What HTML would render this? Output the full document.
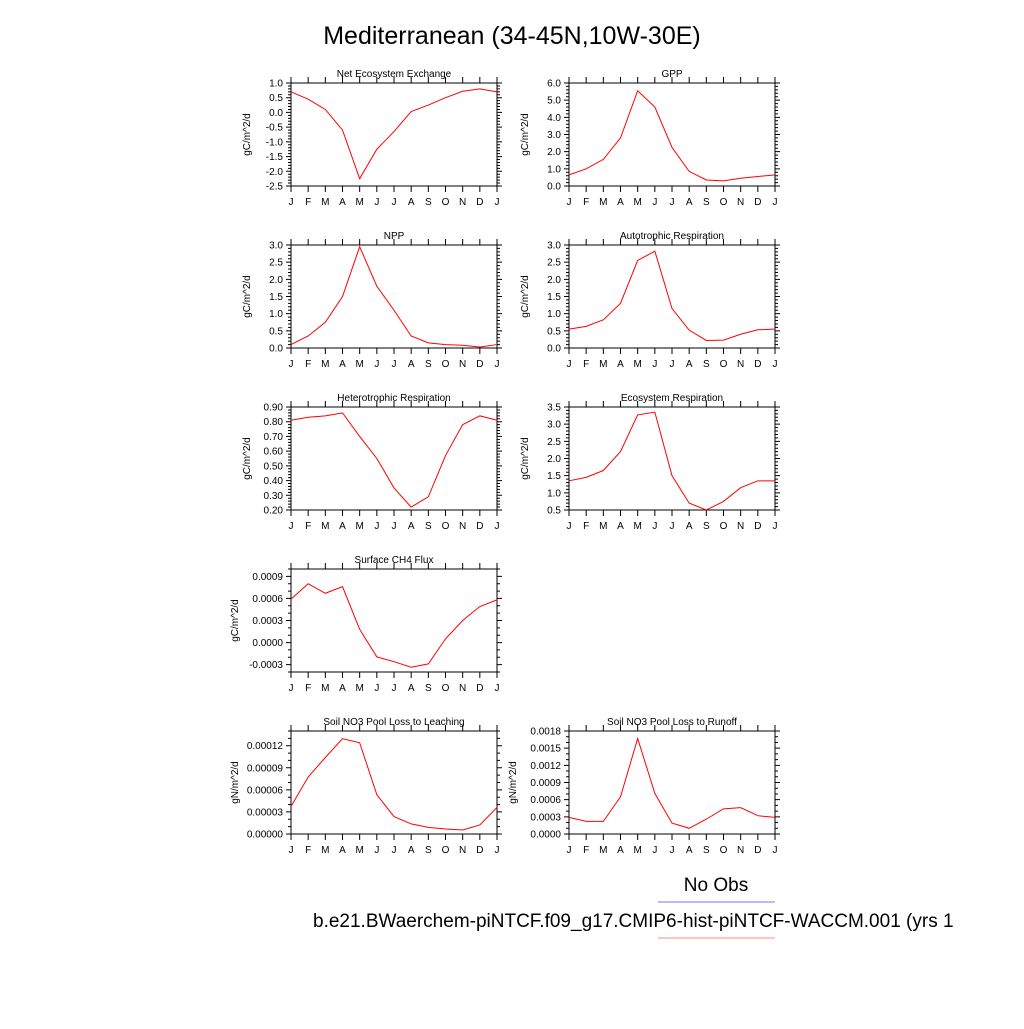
<!DOCTYPE html>
<html><head><meta charset="utf-8"><style>
body{margin:0;background:#fff;width:1024px;height:1024px;overflow:hidden}
svg text{font-family:"Liberation Sans",sans-serif;fill:#000}
</style></head><body>
<svg id="c" width="1024" height="1024" xmlns="http://www.w3.org/2000/svg">
<text x="512" y="44" font-size="25" text-anchor="middle">Mediterranean (34-45N,10W-30E)</text>
<text x="716" y="891" font-size="19" text-anchor="middle">No Obs</text>
<line x1="658" y1="902" x2="775" y2="902" stroke="#9090ff" stroke-width="1.2"/>
<text x="313" y="927" font-size="19">b.e21.BWaerchem-piNTCF.f09_g17.CMIP6-hist-piNTCF-WACCM.001 (yrs 1</text>
<line x1="658" y1="938" x2="775" y2="938" stroke="#ffa0a0" stroke-width="1.2"/>
</svg>
<script>
const months=["J","F","M","A","M","J","J","A","S","O","N","D","J"];
const neeVals=[0.7,0.45,0.1,-0.6,-2.25,-1.25,-0.65,0.03,0.25,0.5,0.72,0.8,0.7];
const gppVals=[0.65,1.0,1.55,2.8,5.55,4.6,2.25,0.85,0.35,0.3,0.45,0.55,0.65];
const nppVals=[0.1,0.35,0.75,1.5,2.95,1.8,1.1,0.35,0.15,0.1,0.08,0.03,0.1];
const arVals=[0.55,0.63,0.82,1.3,2.55,2.82,1.15,0.52,0.22,0.23,0.4,0.53,0.55];
const hrVals=[0.81,0.83,0.84,0.86,0.7,0.55,0.35,0.22,0.29,0.57,0.78,0.84,0.81];
const erVals=[1.35,1.45,1.65,2.2,3.27,3.35,1.5,0.7,0.5,0.75,1.15,1.35,1.35];
const ch4Vals=[0.00059,0.0008,0.00067,0.00076,0.00018,-0.000195,-0.00026,-0.000335,-0.00029,0.00005,0.0003,0.00049,0.00058];
const leachVals=[0.0000374,0.0000775,0.000104,0.0001296,0.000124,0.0000534,0.0000237,0.0000137,0.000009,0.0000068,0.0000055,0.0000123,0.000036];
const runoffVals=[0.00029,0.00022,0.00022,0.00065,0.00167,0.00071,0.00019,0.0001,0.00026,0.00044,0.00046,0.00032,0.00029];
const neeTicks=[1.0,0.5,0.0,-0.5,-1.0,-1.5,-2.0,-2.5];
const gppTicks=[0,1,2,3,4,5,6];
const halfTicks=[0,0.5,1,1.5,2,2.5,3];
const hrTicks=[0.2,0.3,0.4,0.5,0.6,0.7,0.8,0.9];
const erTicks=[0.5,1,1.5,2,2.5,3,3.5];
const ch4Ticks=[-0.0003,0,0.0003,0.0006,0.0009];
const leachTicks=[0,0.00003,0.00006,0.00009,0.00012];
const runoffTicks=[0,0.0003,0.0006,0.0009,0.0012,0.0015,0.0018];
const panels=[
 {name:"nee",title:"Net Ecosystem Exchange",unit:"gC/m^2/d",col:0,row:0,vals:neeVals,ticks:neeTicks,min:-2.5,max:1.0,dec:1,minor:0.1},
 {name:"gpp",title:"GPP",unit:"gC/m^2/d",col:1,row:0,vals:gppVals,ticks:gppTicks,min:0,max:6,dec:1,minor:0.2},
 {name:"npp",title:"NPP",unit:"gC/m^2/d",col:0,row:1,vals:nppVals,ticks:halfTicks,min:0,max:3,dec:1,minor:0.1},
 {name:"autotrophic-resp",title:"Autotrophic Respiration",unit:"gC/m^2/d",col:1,row:1,vals:arVals,ticks:halfTicks,min:0,max:3,dec:1,minor:0.1},
 {name:"heterotrophic-resp",title:"Heterotrophic Respiration",unit:"gC/m^2/d",col:0,row:2,vals:hrVals,ticks:hrTicks,min:0.2,max:0.9,dec:2,minor:0.02},
 {name:"ecosystem-resp",title:"Ecosystem Respiration",unit:"gC/m^2/d",col:1,row:2,vals:erVals,ticks:erTicks,min:0.5,max:3.5,dec:1,minor:0.1},
 {name:"ch4-flux",title:"Surface CH4 Flux",unit:"gC/m^2/d",col:0,row:3,vals:ch4Vals,ticks:ch4Ticks,min:-0.0004,max:0.001,dec:4,minor:0.0001},
 {name:"no3-leaching",title:"Soil NO3 Pool Loss to Leaching",unit:"gN/m^2/d",col:0,row:4,vals:leachVals,ticks:leachTicks,min:0,max:0.00014,dec:5,minor:0.00001},
 {name:"no3-runoff",title:"Soil NO3 Pool Loss to Runoff",unit:"gN/m^2/d",col:1,row:4,vals:runoffVals,ticks:runoffTicks,min:0,max:0.0018,dec:4,minor:0.0001}
];
const svg=document.getElementById('c');
const NS="http://www.w3.org/2000/svg";
function mk(tag,attrs,parent){const e=document.createElementNS(NS,tag);for(const k in attrs)e.setAttribute(k,attrs[k]);parent.appendChild(e);return e;}
panels.forEach(p=>{
 const x0=[291,569][p.col], y0=83+p.row*162, W=206, H=103;
 const g=mk('g',{},svg);
 
 
 const xs=i=>x0+i*W/12;
 const ys=v=>y0+H-(v-p.min)/(p.max-p.min)*H;
 const t=mk('text',{x:x0+W/2,y:y0-6,'font-size':10,'text-anchor':'middle'},g);t.textContent=p.title;
 
 
 const yl=mk('text',{x:0,y:0,'font-size':10,'text-anchor':'middle',transform:`translate(${x0-41 - (p.dec>=4?12:0)},${y0+H/2}) rotate(-90)`},g);yl.textContent=p.unit;
 
 
 let d="";
 // minor y ticks
 const nMin=Math.round((p.max-p.min)/p.minor);
 for(let k=0;k<=nMin;k++){const y=ys(p.min+k*p.minor);d+=`M${x0} ${y}h-3M${x0+W} ${y}h3`;}
 p.ticks.forEach(v=>{const y=ys(v);d+=`M${x0} ${y}h-5M${x0+W} ${y}h5`;
  const tl=mk('text',{x:x0-8,y:y+3.5,'font-size':10,'text-anchor':'end'},g);tl.textContent=v.toFixed(p.dec);
  
  });
 months.forEach((m,i)=>{const x=xs(i);d+=`M${x} ${y0}v-6M${x} ${y0+H}v6`;
  const ml=mk('text',{x:x,y:y0+H+19,'font-size':10,'text-anchor':'middle'},g);ml.textContent=m;
  
  });
 const tk=mk('path',{d:d,stroke:'#000','stroke-width':1,fill:'none'},g);
 
 
 const fr=mk('rect',{x:x0,y:y0,width:W,height:H,fill:'none',stroke:'#000','stroke-width':1},g);
 
 
 const ln=mk('polyline',{points:p.vals.map((v,i)=>xs(i)+','+ys(v)).join(' '),fill:'none',stroke:'#ff0000','stroke-width':1},g);
 
 
});
</script>
</body></html>
